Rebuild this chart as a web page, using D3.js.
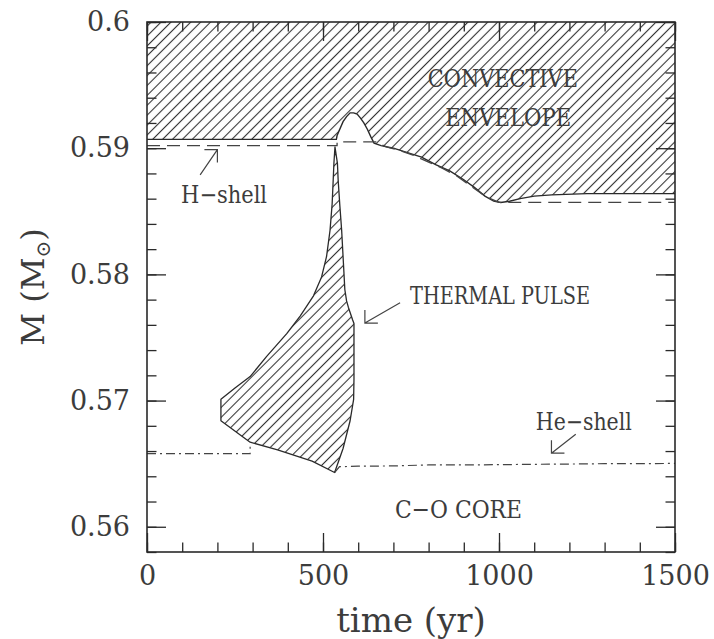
<!DOCTYPE html>
<html><head><meta charset="utf-8">
<script src="https://cdn.jsdelivr.net/npm/d3@7"></script>
<style>html,body{margin:0;padding:0;background:#fff;} svg{display:block;}</style>
</head><body>
<svg id="chart" width="714" height="639"></svg>
<script>
// ---------- data ----------
const xMajorTicks = [0, 500, 1000, 1500];
const xTickLabels = ["0", "500", "1000", "1500"];
const yMajorTicks = [0.56, 0.57, 0.58, 0.59, 0.6];
const yTickLabels = ["0.56", "0.57", "0.58", "0.59", "0.6"];

// lower boundary of the convective envelope
const envTime = [0, 538, 540, 557, 567, 577, 587, 597, 606, 616, 626, 636, 645, 665, 700, 740, 780, 820, 860, 900, 930, 960, 985, 1005, 1030, 1060, 1100, 1150, 1250, 1350, 1500];
const envMass = [0.5907, 0.5907, 0.5910, 0.5921, 0.5925, 0.5928, 0.5928, 0.5927, 0.5924, 0.5920, 0.5915, 0.5909, 0.5904, 0.5902, 0.5900, 0.58965, 0.5893, 0.5887, 0.5882, 0.5875, 0.5869, 0.5862, 0.5858, 0.5857, 0.5858, 0.5860, 0.5862, 0.5863, 0.5864, 0.5864, 0.5864];

// H-burning shell (dashed)
const hShellTime = [0, 540, 540, 650, 680, 720, 760, 800, 840, 880, 920, 960, 1000, 1040, 1100, 1500];
const hShellMass = [0.5902, 0.5902, 0.5905, 0.5905, 0.5901, 0.5898, 0.5894, 0.5889, 0.5884, 0.5878, 0.5870, 0.5862, 0.5857, 0.5857, 0.5857, 0.5857];

// He-burning shell (dash-dot), before and after the pulse
const heShellTimeA = [0, 293, 293];
const heShellMassA = [0.5658, 0.5658, 0.5666];
const heShellTimeB = [533, 547, 600, 700, 800, 900, 1000, 1100, 1200, 1300, 1400, 1500];
const heShellMassB = [0.5643, 0.56476, 0.5648, 0.56482, 0.5649, 0.5649, 0.56492, 0.56495, 0.56497, 0.565, 0.565, 0.56502];

// pulse-driven convective zone (closed outline, clockwise from the top tip)
const pulseTime = [534, 541, 543, 548, 553, 558, 562, 567, 572, 578, 584, 588, 588, 587, 577, 557, 533, 469, 371, 293, 210, 210, 250, 293, 340, 397, 435, 473, 496, 510, 520, 526, 529, 531];
const pulseMass = [0.5901, 0.5888, 0.5875, 0.5854, 0.5835, 0.5809, 0.5788, 0.5779, 0.5774, 0.5769, 0.5764, 0.5761, 0.5717, 0.5701, 0.5684, 0.5662, 0.5643, 0.5652, 0.5661, 0.5667, 0.5684, 0.5701, 0.5710, 0.5719, 0.5735, 0.5753, 0.5767, 0.5783, 0.5798, 0.5814, 0.5835, 0.5856, 0.5875, 0.5888];

// annotations (data coordinates)
const labels = [
  {text: "CONVECTIVE", t: 1011, m: 0.5955, len: 150, size: 25},
  {text: "ENVELOPE", t: 1026, m: 0.5924, len: 126, size: 25},
  {text: "H\u2212shell", t: 219, m: 0.5863, len: 86, size: 24},
  {text: "THERMAL PULSE", t: 1003, m: 0.5783, len: 180, size: 24},
  {text: "He\u2212shell", t: 1241, m: 0.5683, len: 96, size: 24},
  {text: "C\u2212O CORE", t: 885, m: 0.5614, len: 127, size: 25}
];
// arrows: tail -> tip, head legs horizontal (hx) and vertical (hy) directions
const arrows = [
  {t0: 151, m0: 0.58788, t1: 200, m1: 0.58989, hx: -1, hy: 1},
  {t0: 719, m0: 0.57775, t1: 619, m1: 0.57614, hx: 1, hy: -1},
  {t0: 1218, m0: 0.56733, t1: 1149, m1: 0.56583, hx: 1, hy: -1}
];

// ---------- layout ----------
const svg = d3.select("#chart");
const L = 147, R = 675, T = 22, B = 552;
const x = d3.scaleLinear().domain([0, 1500]).range([L, R]);
const y = d3.scaleLinear().domain([0.558, 0.6]).range([B, T]);
const ink = "#2a2a2a";
const txt = "#3c3c3c";
const serif = "'DejaVu Serif', 'Liberation Serif', serif";

const defs = svg.append("defs");
const hs = 7;
const pat = defs.append("pattern").attr("id", "hatch")
  .attr("patternUnits", "userSpaceOnUse")
  .attr("width", hs).attr("height", hs)
  .attr("patternTransform", "rotate(45)");
pat.append("line").attr("x1", hs/2).attr("y1", -1).attr("x2", hs/2).attr("y2", hs+1)
  .attr("stroke", "#333").attr("stroke-width", 1.1);
defs.append("clipPath").attr("id", "plotclip").append("rect")
  .attr("x", L).attr("y", T).attr("width", R - L).attr("height", B - T);

const g = svg.append("g").attr("clip-path", "url(#plotclip)");

// envelope hatch
const envData = envTime.map((t, i) => [t, envMass[i]]);
const area = d3.area().x(d => x(d[0])).y0(y(0.6)).y1(d => y(d[1]));
g.append("path").datum(envData).attr("d", area).attr("fill", "url(#hatch)");
const line = d3.line().x(d => x(d[0])).y(d => y(d[1]));
g.append("path").datum(envData).attr("d", line)
  .attr("fill", "none").attr("stroke", ink).attr("stroke-width", 1.4);

// pulse zone
const pulseData = pulseTime.map((t, i) => [t, pulseMass[i]]);
g.append("path").datum(pulseData).attr("d", d3.line().x(d => x(d[0])).y(d => y(d[1])).curve(d3.curveLinearClosed))
  .attr("fill", "url(#hatch)").attr("stroke", ink).attr("stroke-width", 1.3).attr("stroke-linejoin", "round");

// H shell
g.append("path").datum(hShellTime.map((t, i) => [t, hShellMass[i]])).attr("d", line)
  .attr("fill", "none").attr("stroke", "#444").attr("stroke-width", 1.3).attr("stroke-dasharray", "13,7");

// He shell
[[heShellTimeA, heShellMassA], [heShellTimeB, heShellMassB]].forEach(([ts, ms]) => {
  g.append("path").datum(ts.map((t, i) => [t, ms[i]])).attr("d", line)
    .attr("fill", "none").attr("stroke", "#444").attr("stroke-width", 1.2).attr("stroke-dasharray", "9,4,2,4");
});

// ---------- axes ----------
const xMinor = d3.range(0, 1501, 100);
const yMinor = d3.range(0, 22).map(i => 0.558 + i * 0.002);
function styleAxis(sel) {
  sel.select(".domain").remove();
  sel.selectAll("line").attr("stroke", ink).attr("stroke-width", 1.3);
  sel.selectAll("text").attr("fill", txt).attr("font-family", serif).attr("font-size", 27);
}
const majLen = 19, minLen = 9.5;
svg.append("g").attr("transform", `translate(0,${B})`)
  .call(d3.axisBottom(x).tickValues(xMajorTicks).tickFormat((d, i) => xTickLabels[i]).tickSizeInner(-majLen).tickSizeOuter(0).tickPadding(14))
  .call(styleAxis);
svg.append("g").attr("transform", `translate(0,${B})`)
  .call(d3.axisBottom(x).tickValues(xMinor).tickFormat("").tickSizeInner(-minLen).tickSizeOuter(0)).call(styleAxis);
svg.append("g").attr("transform", `translate(0,${T})`)
  .call(d3.axisTop(x).tickValues(xMajorTicks).tickFormat("").tickSizeInner(-majLen).tickSizeOuter(0)).call(styleAxis);
svg.append("g").attr("transform", `translate(0,${T})`)
  .call(d3.axisTop(x).tickValues(xMinor).tickFormat("").tickSizeInner(-minLen).tickSizeOuter(0)).call(styleAxis);
svg.append("g").attr("transform", `translate(${L},0)`)
  .call(d3.axisLeft(y).tickValues(yMajorTicks).tickFormat((d, i) => yTickLabels[i]).tickSizeInner(-majLen).tickSizeOuter(0).tickPadding(17))
  .call(styleAxis);
svg.append("g").attr("transform", `translate(${L},0)`)
  .call(d3.axisLeft(y).tickValues(yMinor).tickFormat("").tickSizeInner(-minLen).tickSizeOuter(0)).call(styleAxis);
svg.append("g").attr("transform", `translate(${R},0)`)
  .call(d3.axisRight(y).tickValues(yMajorTicks).tickFormat("").tickSizeInner(-majLen).tickSizeOuter(0)).call(styleAxis);
svg.append("g").attr("transform", `translate(${R},0)`)
  .call(d3.axisRight(y).tickValues(yMinor).tickFormat("").tickSizeInner(-minLen).tickSizeOuter(0)).call(styleAxis);

// frame
svg.append("rect").attr("x", L).attr("y", T).attr("width", R - L).attr("height", B - T)
  .attr("fill", "none").attr("stroke", ink).attr("stroke-width", 1.6);

// axis titles
svg.append("text").attr("x", (L + R) / 2).attr("y", 632).attr("text-anchor", "middle")
  .attr("font-family", serif).attr("font-size", 34).attr("fill", txt).text("time (yr)");
const yl = svg.append("text").attr("transform", `translate(44,${(T + B) / 2}) rotate(-90)`)
  .attr("text-anchor", "middle").attr("font-family", serif).attr("font-size", 32).attr("fill", txt);
yl.append("tspan").text("M (M");
yl.append("tspan").attr("font-size", 20).attr("dy", 6).text("\u2299");
yl.append("tspan").attr("dy", -6).text(")");

// annotation labels
labels.forEach(l => {
  svg.append("text").attr("x", x(l.t)).attr("y", y(l.m)).attr("text-anchor", "middle")
    .attr("dominant-baseline", "central")
    .attr("font-family", serif).attr("font-size", l.size).attr("fill", txt)
    .attr("textLength", l.len).attr("lengthAdjust", "spacingAndGlyphs").text(l.text);
});

// arrows
const head = 13;
arrows.forEach(a => {
  const x0 = x(a.t0), y0 = y(a.m0), x1 = x(a.t1), y1 = y(a.m1);
  const p = d3.path();
  p.moveTo(x0, y0); p.lineTo(x1, y1);
  p.moveTo(x1 + a.hx * head, y1); p.lineTo(x1, y1); p.lineTo(x1, y1 + a.hy * head);
  svg.append("path").attr("d", p.toString()).attr("fill", "none")
    .attr("stroke", "#444").attr("stroke-width", 1.2);
});
</script>
</body></html>
